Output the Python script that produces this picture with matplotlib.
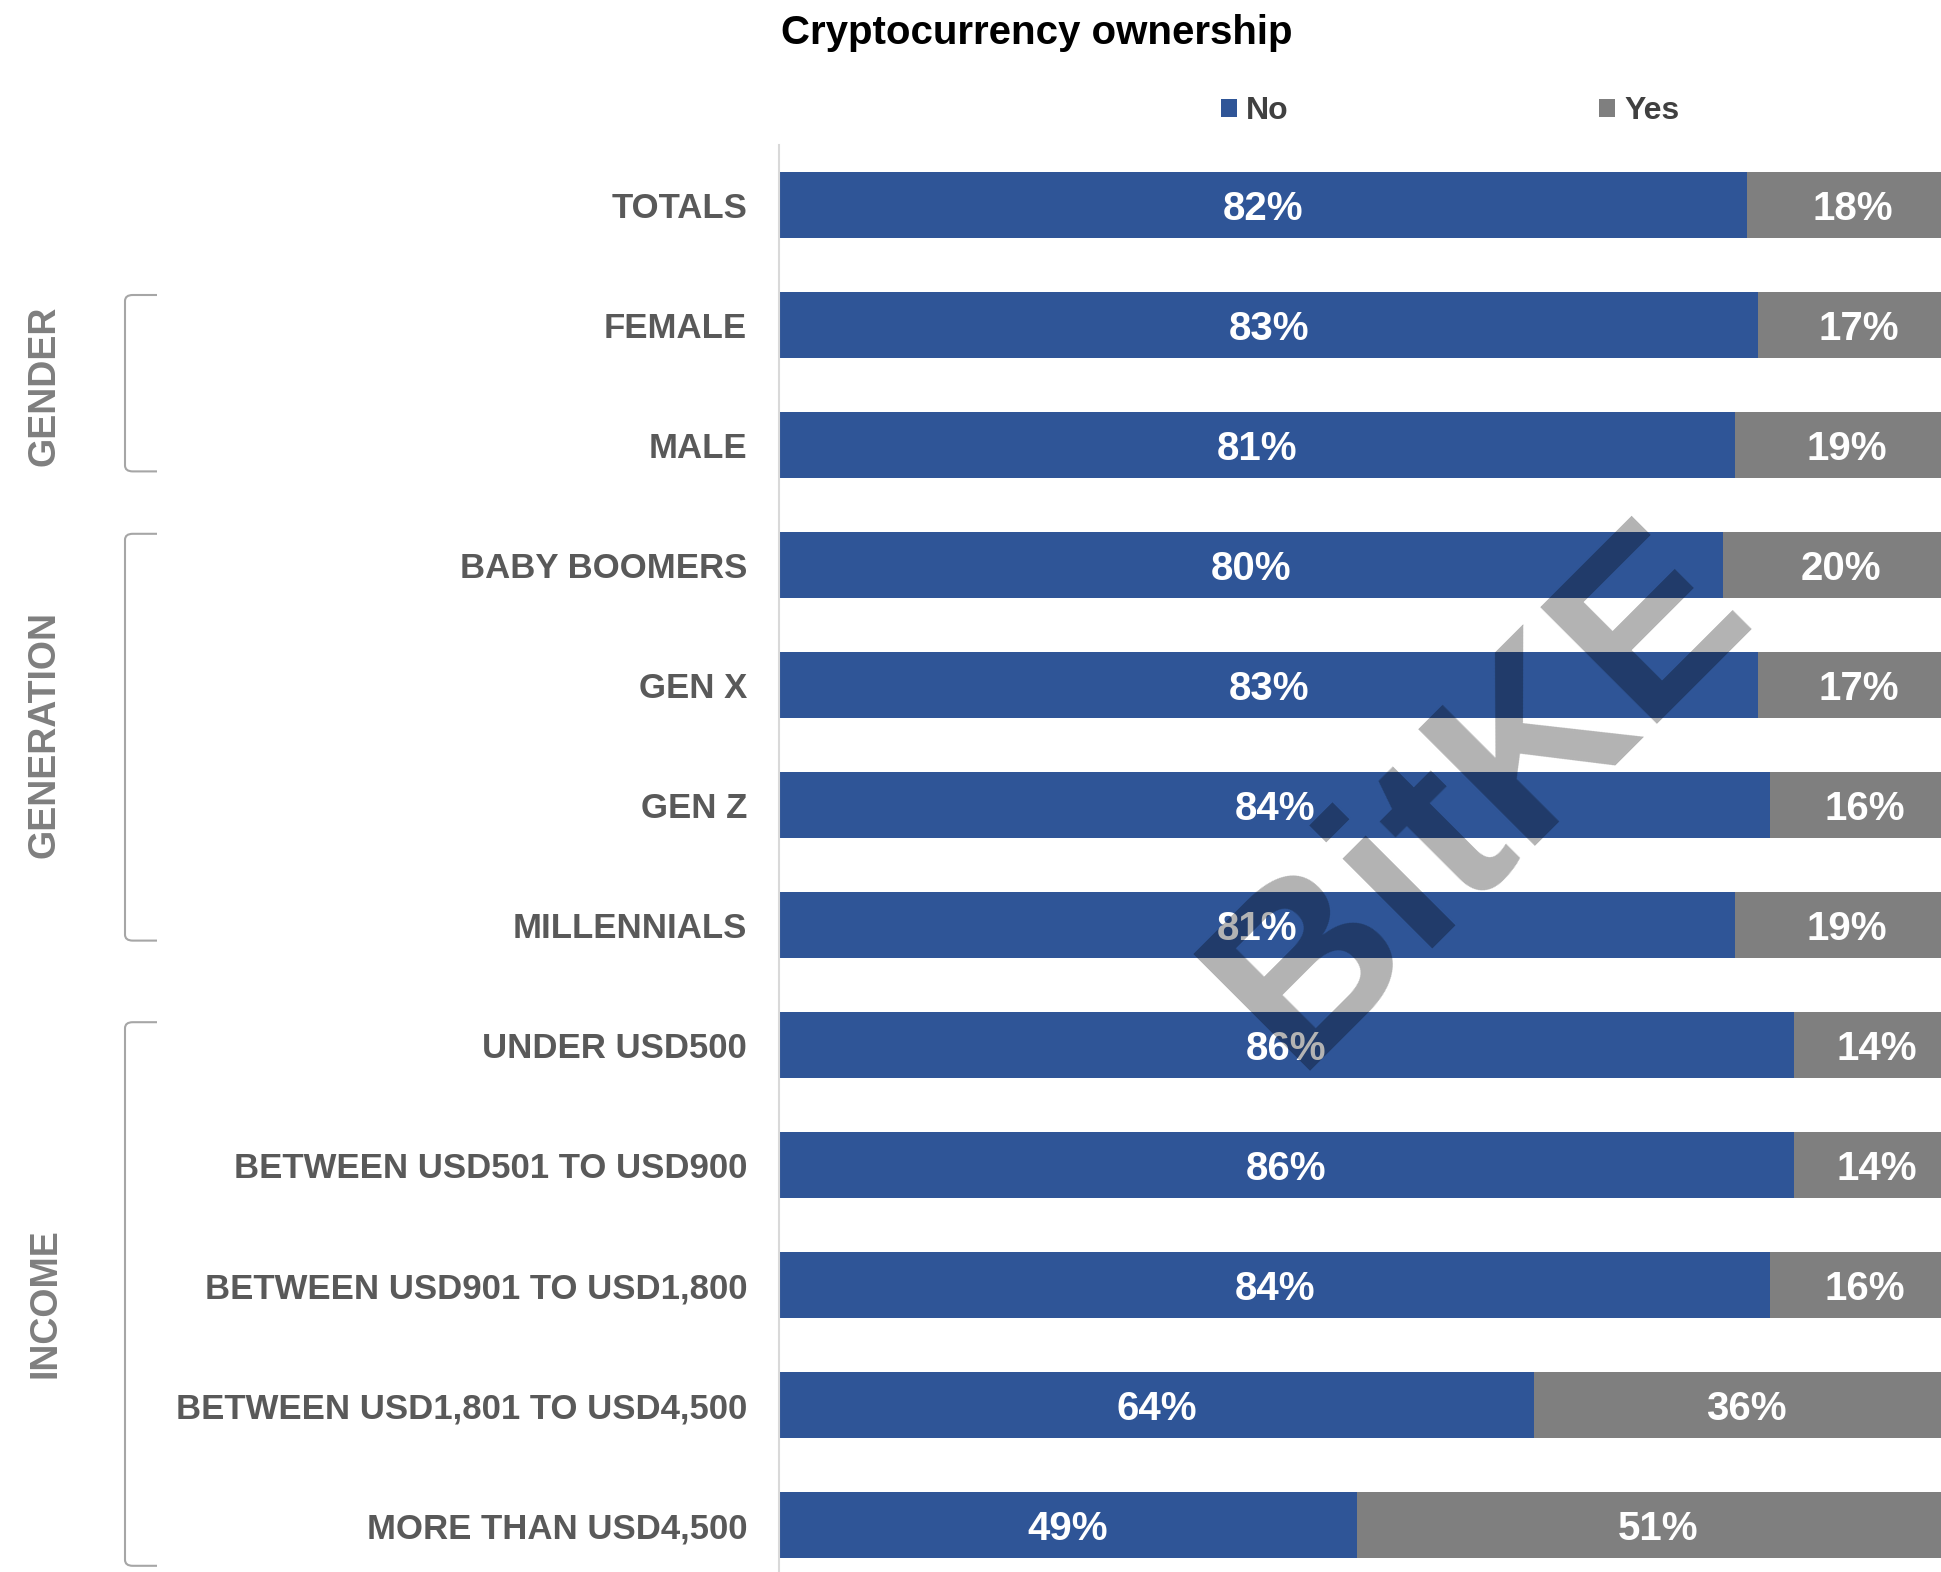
import matplotlib.pyplot as plt
from matplotlib.path import Path
from matplotlib.patches import PathPatch
from matplotlib.transforms import blended_transform_factory, ScaledTranslation

# survey answers, in percent
categories = ['TOTALS', 'FEMALE', 'MALE', 'BABY BOOMERS', 'GEN X', 'GEN Z', 'MILLENNIALS',
              'UNDER USD500', 'BETWEEN USD501 TO USD900', 'BETWEEN USD901 TO USD1,800',
              'BETWEEN USD1,801 TO USD4,500', 'MORE THAN USD4,500']
no_pct = [82, 83, 81, 80, 83, 84, 81, 86, 86, 84, 64, 49]
yes_pct = [18, 17, 19, 20, 17, 16, 19, 14, 14, 16, 36, 51]

# group name, first row, last row, bracket overhang above / below, label offset
groups = [('GENDER', 1, 2, 0.25, 0.22, 0.02),
          ('GENERATION', 3, 6, 0.26, 0.13, -0.02),
          ('INCOME', 7, 11, 0.19, 0.34, 0.08)]

BLUE = '#2F5597'
GREY = '#7F7F7F'
FONT = 'Liberation Sans'

W, H = 1941, 1572
fig = plt.figure(figsize=(W / 100, H / 100), dpi=100)
fig.patch.set_facecolor('white')

# axes runs a little past the right edge of the figure
ax = fig.add_axes([779 / W, 1 - 1585 / H, 1180 / W, 1440 / H])
y = list(range(len(categories)))

b_no = ax.barh(y, no_pct, height=0.55, color=BLUE, label='No')
b_yes = ax.barh(y, yes_pct, left=no_pct, height=0.55, color=GREY, label='Yes')

ax.set_xlim(0, 100)
ax.set_ylim(len(categories) - 0.5, -0.5)
for s in ['top', 'right', 'bottom']:
    ax.spines[s].set_visible(False)
ax.spines['left'].set_color('#D9D9D9')
ax.spines['left'].set_linewidth(1.5)
ax.set_xticks([])
ax.set_yticks(y)
ax.set_yticklabels(categories, fontfamily=FONT, fontweight='bold', fontsize=25, color='#595959')
ax.tick_params(axis='y', length=0, pad=23)

# value labels inside each segment, nudged down a few pixels
lbl_tr = ax.transData + ScaledTranslation(0, -3.5 / 100, fig.dpi_scale_trans)
for i in y:
    ax.text(no_pct[i] / 2, i, f'{no_pct[i]}%', transform=lbl_tr, ha='center', va='center',
            color='white', fontsize=29, fontweight='bold', fontfamily=FONT)
    ax.text(no_pct[i] + yes_pct[i] / 2, i, f'{yes_pct[i]}%', transform=lbl_tr, ha='center',
            va='center', color='white', fontsize=29, fontweight='bold', fontfamily=FONT)

# group brackets on the left
tr = blended_transform_factory(fig.transFigure, ax.transData)
x0, x1 = 125 / W, 157 / W
for name, first, last, up, down, off in groups:
    top, bot = first - up, last + down
    verts = [(x1, top), (x0 + 0.004, top), (x0, top), (x0, top + 0.05),
             (x0, bot - 0.05), (x0, bot), (x0 + 0.004, bot), (x1, bot)]
    codes = [Path.MOVETO, Path.LINETO, Path.CURVE3, Path.CURVE3,
             Path.LINETO, Path.CURVE3, Path.CURVE3, Path.LINETO]
    fig.patches.append(PathPatch(Path(verts, codes), transform=tr, fill=False,
                                 edgecolor='#A6A6A6', linewidth=1.5))
    fig.text(45 / W, (top + bot) / 2 + off, name, transform=tr, rotation=90,
             ha='center', va='center', fontsize=27, fontweight='bold',
             color=GREY, fontfamily=FONT)

fig.text(0.534, 1 - 44 / H, 'Cryptocurrency ownership', ha='center', va='baseline',
         fontsize=29, fontweight='bold', color='black', fontfamily=FONT)

fig.legend(handles=[b_no, b_yes], labels=['No', 'Yes'], loc='center',
           bbox_to_anchor=(1450 / W, 1 - 111 / H), ncol=2, frameon=False,
           handlelength=0.5, handleheight=0.5, handletextpad=0.3, columnspacing=9.7,
           prop={'family': FONT, 'weight': 'bold', 'size': 23}, labelcolor='#404040')

# site watermark
fig.text(1481 / W, 1 - 797 / H, 'BitKE', rotation=45, ha='center', va='center',
         fontsize=172, fontweight='bold', color='black', alpha=0.3, fontfamily=FONT)

fig.savefig('out.png', dpi=100)
